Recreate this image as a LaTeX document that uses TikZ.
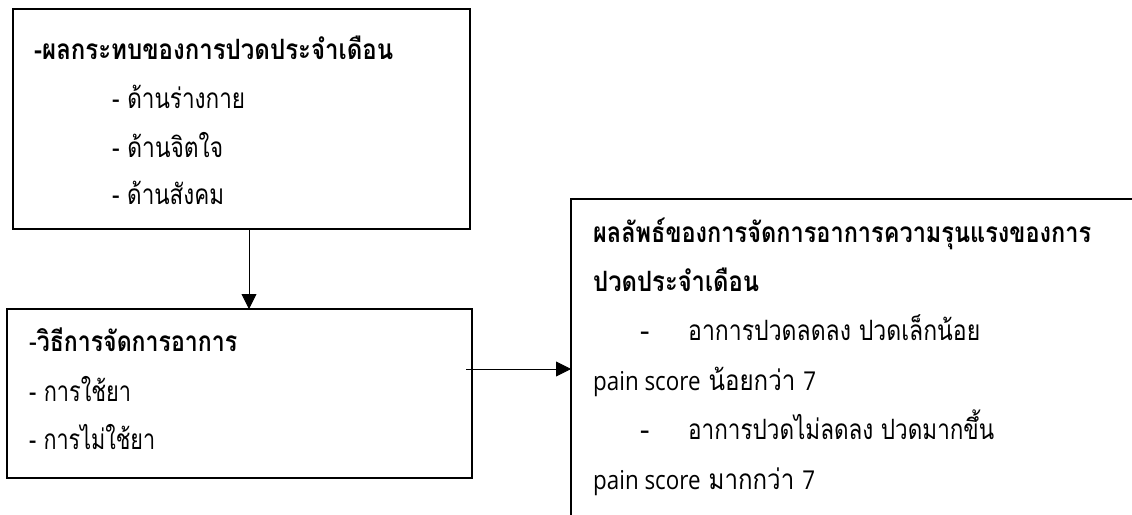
\documentclass[tikz,border=0pt]{standalone}
\usepackage{fontspec}
\usepackage{graphicx}
\setmainfont{Open Sans}
\newfontfamily\thai[Script=Thai]{Loma}
\usetikzlibrary{arrows.meta}
\tikzset{
  boxnode/.style={draw, line width=1.6pt, rectangle, outer sep=0pt, inner sep=0pt, anchor=north west},
  txt/.style={anchor=base west, inner sep=0pt, font=\fontsize{28}{32}\selectfont\thai},
  arr/.style={line width=0.9pt, -{Triangle[length=15pt,width=15pt]}}
}
\newcommand{\lt}[1]{{\normalfont\fontsize{26}{30}\selectfont #1}}
\newcommand{\fitw}[2]{\resizebox{#1}{\height}{#2}}
\begin{document}
\begin{tikzpicture}[x=1pt,y=-1pt]
\useasboundingbox (0,0) rectangle (1132,514);
\clip (0,0) rectangle (1132,514);
\fill[white] (0,0) rectangle (1132,514);
% boxes
\node[boxnode, minimum width=457pt, minimum height=220pt] (box1) at (13,9) {};
\node[boxnode, minimum width=465pt, minimum height=169pt] (box2) at (7,309) {};
\node[boxnode, minimum width=640pt, minimum height=420pt] (box3) at (571,199) {};
% box1 text
\node[txt] (t11) at (34,59) {\fitw{359pt}{\bfseries -ผลกระทบของการปวดประจำเดือน}};
\node[txt] (t12) at (112,108) {\fitw{133pt}{- ด้านร่างกาย}};
\node[txt] (t13) at (112,157) {\fitw{111pt}{- ด้านจิตใจ}};
\node[txt] (t14) at (112,204) {\fitw{112pt}{- ด้านสังคม}};
% box2 text
\node[txt] (t21) at (29,351) {\fitw{208pt}{-\textbf{วิธีการจัดการอาการ}}};
\node[txt] (t22) at (29,401) {\fitw{102pt}{- การใช้ยา}};
\node[txt] (t23) at (29,449) {\fitw{126pt}{- การไม่ใช้ยา}};
% box3 text
\node[txt] (t31) at (593,242) {\fitw{498pt}{\bfseries ผลลัพธ์ของการจัดการอาการความรุนแรงของการ}};
\node[txt] (t32) at (593,291.4) {\fitw{166pt}{\bfseries ปวดประจำเดือน}};
\node[txt] (t33d) at (640,340.8) {-};
\node[txt] (t33) at (688,340.8) {\fitw{292pt}{อาการปวดลดลง ปวดเล็กน้อย}};
\node[txt] (t34) at (593,390.2) {\fitw{223pt}{\lt{pain score} น้อยกว่า \lt{7}}};
\node[txt] (t35d) at (640,439.6) {-};
\node[txt] (t35) at (688,439.6) {\fitw{306pt}{อาการปวดไม่ลดลง ปวดมากขึ้น}};
\node[txt] (t36) at (593,489) {\fitw{222pt}{\lt{pain score} มากกว่า \lt{7}}};
% connectors
\coordinate (a1) at (249,0);
\draw[arr] (box1.south -| a1) -- (box2.north -| a1);
\coordinate (a2) at (466,369);
\draw[arr] (a2) -- (box3.west |- a2);
\end{tikzpicture}
\end{document}
